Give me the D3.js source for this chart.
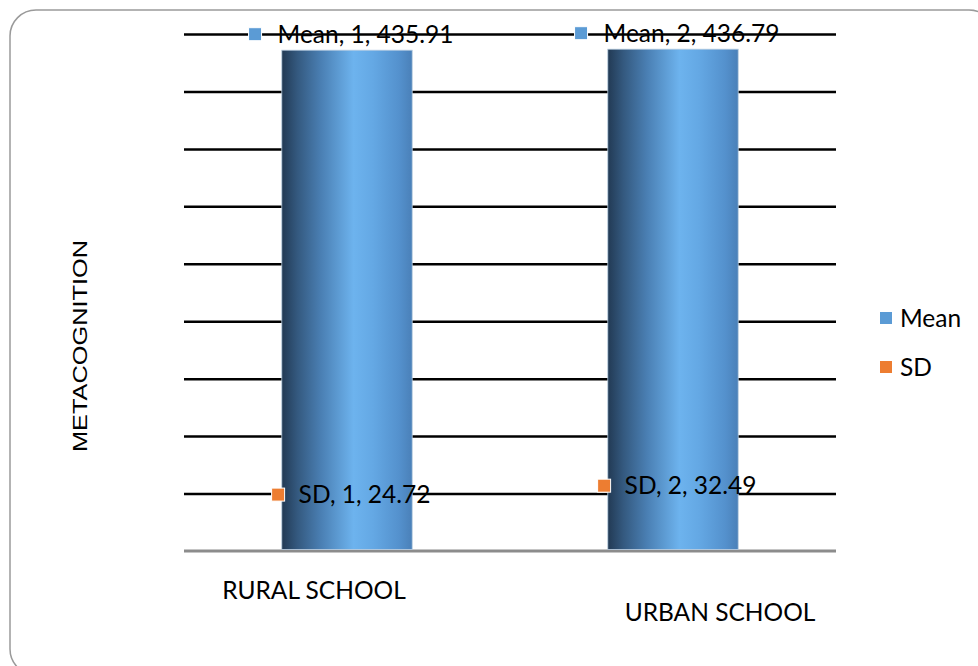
<!DOCTYPE html>
<html><head><meta charset="utf-8">
<script src="https://cdn.jsdelivr.net/npm/d3@7"></script>
<style>html,body{margin:0;padding:0;background:#fff;}svg{display:block;}</style>
</head><body>
<script>
const categories = ["RURAL SCHOOL", "URBAN SCHOOL"];
const meanValues = [435.91, 436.79];
const sdValues = [24.72, 32.49];
const seriesNames = ["Mean", "SD"];
const yTicks = [0, 50, 100, 150, 200, 250, 300, 350, 400, 450];

const W = 978, H = 666;
const svg = d3.select("body").append("svg").attr("width", W).attr("height", H);

// frame
svg.append("rect").attr("x", 10).attr("y", 10).attr("width", 985).attr("height", 665)
  .attr("rx", 26).attr("fill", "#fff").attr("stroke", "#9a9a9a").attr("stroke-width", 1.5);

const pL = 184, pR = 836, pT = 34, pB = 551;
const x = d3.scaleBand().domain(categories).range([pL, pR]).paddingInner(0.6).paddingOuter(0.3);
const y = d3.scaleLinear().domain([0, 450]).range([pB, pT]);

const defs = svg.append("defs");
const grad = defs.append("linearGradient").attr("id", "barGrad").attr("x1", "0%").attr("x2", "100%").attr("y1", "0%").attr("y2", "0%");
[[0, "#223a54"], [0.12, "#34597f"], [0.3, "#4a7fb3"], [0.55, "#6db3ee"], [0.7, "#64a8e4"], [0.9, "#5491cd"], [1, "#4a80b8"]]
  .forEach(([o, c]) => grad.append("stop").attr("offset", o).attr("stop-color", c));

// gridlines
const grid = svg.append("g").attr("transform", `translate(${pL},0)`)
  .call(d3.axisLeft(y).tickValues(yTicks.filter(d => d > 0)).tickSize(-(pR - pL)).tickFormat(""));
grid.select(".domain").remove();
grid.selectAll(".tick line").attr("stroke", "#000").attr("stroke-width", 2.5);

// baseline
svg.append("line").attr("x1", pL).attr("x2", pR).attr("y1", y(0)).attr("y2", y(0))
  .attr("stroke", "#8c8c8c").attr("stroke-width", 3);

// bars
svg.selectAll("rect.bar").data(categories).enter().append("rect").attr("class", "bar")
  .attr("x", d => x(d)).attr("width", x.bandwidth())
  .attr("y", (d, i) => y(meanValues[i])).attr("height", (d, i) => y(0) - 1.5 - y(meanValues[i]))
  .attr("fill", "url(#barGrad)").attr("stroke", "#b8cde0").attr("stroke-width", 0.8);

// data labels
const font = "Lato, 'Open Sans', sans-serif";
function label(cx, cy, color, txt, gap) {
  const g = svg.append("g");
  const t = g.append("text").attr("y", cy).attr("dy", "0.35em").attr("font-family", font)
    .attr("font-size", 24.5).attr("fill", "#000").text(txt);
  const tw = t.node().getComputedTextLength();
  const mk = 13;
  const total = mk + gap + tw;
  const x0 = cx - total / 2 + 4;
  g.insert("rect", "text").attr("x", x0).attr("y", cy - mk / 2).attr("width", mk).attr("height", mk)
    .attr("fill", color).attr("stroke", "#fff").attr("stroke-width", 1);
  t.attr("x", x0 + mk + gap);
}
categories.forEach((c, i) => {
  const cx = x(c) + x.bandwidth() / 2;
  label(cx, y(meanValues[i]) - 16, "#5b9bd5", `${seriesNames[0]}, ${i + 1}, ${meanValues[i]}`, 16);
  label(cx, y(sdValues[i]) - 28, "#ed7d31", `${seriesNames[1]}, ${i + 1}, ${sdValues[i]}`, 14);
});

// category labels
const catPos = [[314, 590], [720, 612]];
categories.forEach((c, i) => {
  svg.append("text").attr("x", catPos[i][0]).attr("y", catPos[i][1]).attr("dy", "0.35em")
    .attr("text-anchor", "middle").attr("font-family", font).attr("font-size", 24.5).attr("fill", "#000").text(c);
});

// axis title
svg.append("text").attr("transform", "translate(80,346) rotate(-90)").attr("x", -106)
  .attr("dy", "0.35em").attr("font-family", "'Liberation Sans', Arimo, Arial, sans-serif").attr("font-size", 20)
  .attr("textLength", 212).attr("lengthAdjust", "spacingAndGlyphs")
  .attr("fill", "#000").text("METACOGNITION");

// legend
const legColors = ["#5b9bd5", "#ed7d31"];
seriesNames.forEach((n, i) => {
  const ly = 318 + i * 49;
  svg.append("rect").attr("x", 880).attr("y", ly - 6).attr("width", 12).attr("height", 12).attr("fill", legColors[i]);
  svg.append("text").attr("x", 900).attr("y", ly).attr("dy", "0.35em").attr("font-family", font)
    .attr("font-size", 24.5).attr("fill", "#000").text(n);
});
</script>
</body></html>
